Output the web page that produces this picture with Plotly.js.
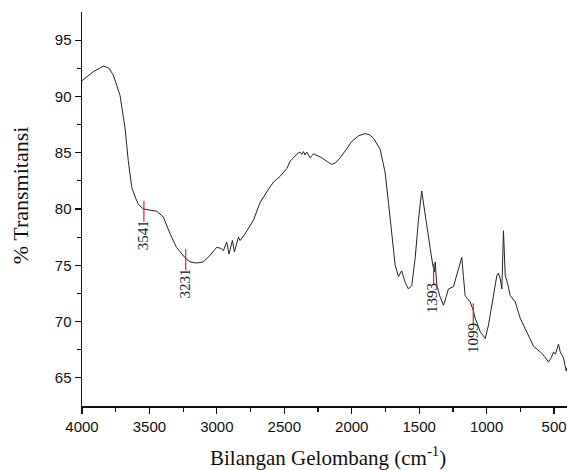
<!DOCTYPE html>
<html>
<head>
<meta charset="utf-8">
<script src="https://cdn.plot.ly/plotly-3.0.1.min.js"></script>
<style>html,body{margin:0;padding:0;background:#fff;}#chart{width:567px;height:470px;}</style>
</head>
<body>
<div id="chart"></div>
<script>
const wavenumber = [4000, 3916, 3870, 3842, 3800, 3768, 3718, 3681, 3657, 3631, 3600, 3582, 3545, 3500, 3446, 3397, 3347, 3300, 3273, 3231, 3199, 3150, 3100, 3050, 3001, 2970, 2952, 2927, 2910, 2885, 2870, 2840, 2828, 2791, 2729, 2679, 2620, 2580, 2531, 2481, 2457, 2420, 2395, 2383, 2370, 2358, 2346, 2333, 2309, 2284, 2222, 2180, 2148, 2120, 2086, 2040, 2000, 1950, 1902, 1870, 1839, 1789, 1752, 1728, 1703, 1678, 1654, 1630, 1604, 1580, 1555, 1530, 1505, 1481, 1458, 1441, 1418, 1399, 1393, 1387, 1381, 1369, 1345, 1320, 1300, 1283, 1246, 1209, 1184, 1172, 1159, 1140, 1122, 1099, 1085, 1047, 1010, 986, 961, 924, 912, 899, 887, 875, 862, 845, 825, 788, 751, 701, 652, 602, 570, 541, 520, 504, 490, 467, 460, 454, 440, 430, 420, 410, 404];
const transmittance = [91.4, 92.2, 92.5, 92.7, 92.5, 91.9, 90.1, 87.2, 84.3, 81.9, 80.9, 80.4, 80.0, 79.9, 79.8, 79.3, 77.8, 76.6, 76.2, 75.6, 75.3, 75.2, 75.3, 75.9, 76.6, 76.5, 76.3, 77.05, 76.0, 77.2, 76.2, 77.5, 77.2, 77.8, 79.0, 80.6, 81.7, 82.4, 82.9, 83.6, 84.25, 84.7, 85.0, 85.05, 84.85, 85.1, 84.8, 85.05, 84.55, 84.9, 84.55, 84.2, 83.96, 84.1, 84.55, 85.3, 86.0, 86.5, 86.7, 86.6, 86.3, 85.3, 83.2, 80.6, 77.6, 75.0, 74.0, 74.5, 73.5, 72.9, 73.2, 75.6, 79.1, 81.6, 79.7, 78.5, 76.5, 75.0, 74.6, 74.4, 75.3, 73.2, 72.2, 71.45, 72.2, 72.9, 73.1, 74.7, 75.7, 74.0, 72.3, 72.0, 71.75, 71.0, 70.3, 69.1, 68.5, 69.7, 71.45, 74.1, 74.3, 73.8, 72.9, 78.07, 74.1, 73.4, 72.3, 71.75, 70.3, 69.1, 67.8, 67.3, 66.9, 66.4, 66.8, 67.3, 67.1, 68.0, 67.4, 67.3, 67.0, 66.75, 66.2, 65.6, 65.9];

const peakPositions = [3541, 3231, 1393, 1099];
const peakValues = [79.8, 75.5, 74.2, 70.7];
const peakLabels = ["3541", "3231", "1393", "1099"];

const xTickValues = [4000, 3500, 3000, 2500, 2000, 1500, 1000, 500];
const yTickValues = [65, 70, 75, 80, 85, 90, 95];
const xTitle = 'Bilangan Gelombang (cm<sup>-1</sup>)';
const yTitle = '% Transmitansi';

const serif = 'Liberation Serif, Times New Roman, serif';
const sans = 'Liberation Sans, Arial, sans-serif';

const traces = [
  {
    x: wavenumber, y: transmittance, type: 'scatter', mode: 'lines',
    line: {color: '#222', width: 1}, hoverinfo: 'skip'
  },
  {
    x: peakPositions, y: peakValues, type: 'scatter', mode: 'markers',
    marker: {symbol: 'line-ns', size: 15, line: {color: '#e8202a', width: 1.2}},
    hoverinfo: 'skip'
  }
];

const annotations = peakPositions.map((p, i) => ({
  x: p, y: peakValues[i], xref: 'x', yref: 'y',
  text: peakLabels[i], showarrow: false, textangle: -90,
  xanchor: 'center', yanchor: 'top', yshift: -7, xshift: -1,
  font: {family: serif, size: 15, color: '#222'}
}));

annotations.push({
  x: 0.507, y: -0.129, xref: 'paper', yref: 'paper',
  text: xTitle, showarrow: false, xanchor: 'center', yanchor: 'middle',
  font: {family: serif, size: 21, color: '#111'}
});
annotations.push({
  x: -0.128, y: 0.535, xref: 'paper', yref: 'paper',
  text: yTitle, showarrow: false, textangle: -90, xanchor: 'center', yanchor: 'middle',
  font: {family: serif, size: 22, color: '#111'}
});

const layout = {
  width: 567, height: 470,
  margin: {l: 82, r: 0, t: 12, b: 64},
  paper_bgcolor: '#fff', plot_bgcolor: '#fff',
  showlegend: false,
  xaxis: {
    range: [4000, 404], autorange: false,
    tickvals: xTickValues, ticktext: xTickValues.map(String),
    ticks: 'outside', ticklen: 6, tickwidth: 1.2, tickcolor: '#111',
    ticklabeloverflow: 'allow',
    minor: {tickvals: [3750, 3250, 2750, 2250, 1750, 1250, 750], ticks: 'outside', ticklen: 4, tickwidth: 1.2, tickcolor: '#111'},
    showline: true, linecolor: '#111', linewidth: 1.5, showgrid: false, zeroline: false,
    tickfont: {family: sans, size: 15, color: '#111'}
  },
  yaxis: {
    range: [62.5, 97.5], autorange: false,
    tickvals: yTickValues, ticktext: yTickValues.map(String),
    ticks: 'outside', ticklen: 6, tickwidth: 1.2, tickcolor: '#111',
    minor: {tickvals: [67.5, 72.5, 77.5, 82.5, 87.5, 92.5], ticks: 'outside', ticklen: 4, tickwidth: 1.2, tickcolor: '#111'},
    showline: true, linecolor: '#111', linewidth: 1.5, showgrid: false, zeroline: false,
    tickfont: {family: sans, size: 15, color: '#111'}
  },
  annotations: annotations
};

Plotly.newPlot('chart', traces, layout, {displayModeBar: false, staticPlot: true});
</script>
</body>
</html>
